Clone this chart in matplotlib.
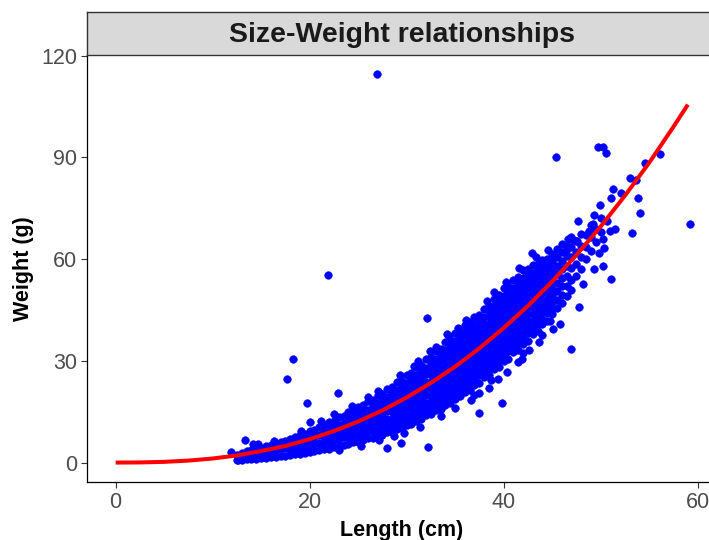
import numpy as np
import matplotlib
matplotlib.use("Agg")
import matplotlib.pyplot as plt

plt.rcParams['font.family'] = ['Liberation Sans', 'DejaVu Sans']

# dense part of the sample: one column of weights (g) per length step (cm)
band_length_cm = [12.5, 13.0, 13.5, 14.0, 14.5, 15.0, 15.5, 16.0, 16.5, 17.0,
                  17.5, 18.0, 18.5, 19.0, 19.5, 20.0, 20.5, 21.0, 21.5, 22.0,
                  22.5, 23.0, 23.5, 24.0, 24.5, 25.0, 25.5, 26.0, 26.5, 27.0,
                  27.5, 28.0, 28.5, 29.0, 29.5, 30.0, 30.5, 31.0, 31.5, 32.0,
                  32.5, 33.0, 33.5, 34.0, 34.5, 35.0, 35.5, 36.0, 36.5, 37.0,
                  37.5, 38.0, 38.5, 39.0, 39.5, 40.0, 40.5, 41.0, 41.5, 42.0,
                  42.5, 43.0, 43.5, 44.0, 44.5, 45.0, 45.5, 46.0, 46.5, 47.0,
                  47.5, 48.0, 48.5, 49.0, 49.5, 50.0]
band_weight_g = [
    [0.8, 2.2],
    [0.9, 2.9],
    [1.0, 2.2, 3.3],
    [1.1, 2.4, 3.6],
    [1.2, 2.6, 4.1],
    [1.3, 2.9, 4.4],
    [1.4, 3.1, 4.9],
    [1.5, 3.4, 5.2],
    [1.6, 3.6, 5.5],
    [1.8, 3.9, 6.1],
    [2.0, 4.2, 6.4],
    [2.2, 3.8, 5.4, 7.1],
    [2.4, 4.1, 5.8, 7.4],
    [2.6, 4.4, 6.2, 8.2],
    [2.8, 4.7, 6.6, 8.5],
    [3.0, 5.1, 7.1, 9.4],
    [3.3, 5.4, 7.6, 9.7],
    [3.6, 5.8, 8.1, 10.6],
    [3.9, 5.7, 7.5, 9.3, 11.0],
    [4.1, 6.2, 8.0, 9.9, 11.9],
    [4.6, 6.6, 8.5, 10.5, 12.3],
    [5.0, 7.0, 9.1, 11.1, 13.4],
    [5.1, 7.4, 9.6, 11.7, 13.8],
    [5.6, 7.4, 9.2, 11.0, 12.8, 14.8],
    [6.1, 7.8, 9.7, 11.6, 13.5, 15.3],
    [6.0, 8.2, 10.2, 12.2, 14.2, 16.5],
    [6.6, 8.7, 10.8, 12.8, 14.9, 16.9],
    [7.2, 9.2, 11.3, 13.5, 15.6, 18.1],
    [7.3, 9.3, 11.1, 13.0, 14.9, 16.7, 18.5],
    [7.9, 9.8, 11.7, 13.7, 15.6, 17.6, 19.8],
    [8.1, 10.2, 12.3, 14.3, 16.3, 18.4, 20.3],
    [8.9, 10.8, 12.9, 15.1, 17.2, 19.3, 21.7],
    [9.1, 11.1, 13.0, 14.9, 16.7, 18.6, 20.5, 22.3],
    [10.0, 11.7, 13.7, 15.6, 17.6, 19.5, 21.5, 23.8],
    [10.3, 12.4, 14.4, 16.4, 18.4, 20.4, 22.4, 24.2],
    [11.2, 13.1, 15.1, 17.2, 19.3, 21.4, 23.4, 25.8],
    [11.5, 13.5, 15.4, 17.2, 19.1, 21.0, 22.9, 24.7, 26.5],
    [12.4, 14.1, 16.1, 18.0, 20.0, 21.9, 23.8, 25.8, 28.1],
    [12.8, 14.9, 16.9, 18.9, 20.9, 22.9, 24.9, 26.9, 28.7],
    [13.9, 15.7, 17.7, 19.8, 21.9, 23.9, 26.0, 28.0, 30.5],
    [14.2, 16.3, 18.2, 20.0, 21.9, 23.8, 25.7, 27.5, 29.4, 31.1],
    [15.4, 17.1, 19.0, 21.0, 22.9, 24.8, 26.7, 28.6, 30.6, 32.9],
    [15.9, 18.0, 20.0, 21.9, 23.9, 25.9, 27.9, 29.8, 31.8, 33.6],
    [17.1, 18.9, 20.9, 23.0, 25.0, 27.0, 29.0, 31.1, 33.1, 35.5],
    [17.6, 19.7, 21.5, 23.4, 25.2, 27.1, 29.0, 30.8, 32.7, 34.5, 36.2],
    [18.9, 20.6, 22.5, 24.4, 26.3, 28.2, 30.1, 32.0, 33.9, 35.8, 38.1],
    [19.5, 21.6, 23.6, 25.5, 27.4, 29.4, 31.3, 33.2, 35.1, 37.1, 38.8],
    [20.9, 22.7, 24.6, 26.6, 28.6, 30.6, 32.5, 34.5, 36.5, 38.4, 40.7],
    [21.5, 23.7, 25.7, 27.7, 29.7, 31.8, 33.8, 35.8, 37.8, 39.8, 41.5],
    [22.9, 24.7, 26.7, 28.6, 30.6, 32.6, 34.6, 36.6, 38.5, 40.5, 42.9],
    [23.6, 25.8, 27.8, 29.8, 31.8, 33.8, 35.7, 37.7, 39.7, 41.7, 43.5],
    [25.1, 26.9, 28.9, 30.9, 32.9, 35.0, 37.0, 39.0, 41.0, 43.0, 45.4],
    [25.8, 27.9, 29.7, 31.6, 33.5, 35.3, 37.2, 39.0, 40.9, 42.8, 44.6, 46.3],
    [27.5, 29.1, 31.0, 32.9, 34.8, 36.7, 38.5, 40.4, 42.3, 44.2, 46.1, 48.4],
    [28.2, 30.3, 32.2, 34.2, 36.1, 38.0, 39.9, 41.8, 43.7, 45.7, 47.6, 49.3],
    [29.9, 31.5, 33.5, 35.4, 37.4, 39.3, 41.3, 43.2, 45.2, 47.1, 49.1, 51.4],
    [30.7, 32.8, 34.8, 36.7, 38.6, 40.6, 42.5, 44.4, 46.4, 48.3, 50.3, 52.0],
    [32.5, 34.1, 36.1, 38.0, 39.9, 41.9, 43.8, 45.7, 47.7, 49.6, 51.6, 53.9],
    [33.3, 35.5, 37.4, 39.4, 41.3, 43.3, 45.2, 47.2, 49.1, 51.1, 53.0, 54.8],
    [35.1, 36.8, 38.7, 40.7, 42.7, 44.7, 46.6, 48.6, 50.6, 52.6, 54.5, 56.9],
    [36.0, 38.1, 40.0, 41.9, 43.8, 45.8, 47.7, 49.6, 51.5, 53.4, 55.3, 57.0],
    [37.9, 39.6, 41.7, 43.7, 45.8, 47.8, 49.8, 51.9, 53.9, 56.0, 58.4],
    [38.8, 41.0, 43.0, 44.9, 46.9, 48.9, 50.9, 52.9, 54.8, 56.8, 58.6],
    [40.8, 42.4, 44.3, 46.2, 48.1, 50.0, 51.9, 53.8, 55.7, 57.6, 59.9],
    [41.8, 44.0, 46.0, 48.1, 50.1, 52.1, 54.1, 56.2, 58.2, 60.0],
    [43.8, 45.4, 47.4, 49.3, 51.3, 53.2, 55.2, 57.1, 59.1, 61.4],
    [45.5, 48.0, 50.5, 53.0, 55.5, 58.0, 60.5, 63.0],
    [47.0, 49.5, 52.0, 54.5, 57.0, 59.5, 62.0, 64.5],
    [49.0, 52.0, 55.0, 58.0, 61.0, 64.0],
    [51.0, 54.0, 57.5, 60.5, 63.5, 66.5],
    [55.0, 58.5, 62.0, 65.5],
    [57.0, 60.5, 64.0, 67.5],
    [60.0, 63.5, 67.0],
    [62.5, 66.5, 70.0],
    [65.0, 69.0],
    [68.0, 72.0],
]

# scattered fish away from the main cloud, and the ragged edges of the cloud
stray_length_cm = [11.9, 12.6, 13.3, 14.2, 14.7, 17.7, 18.3, 19.7, 20.0, 21.9,
                   22.5, 22.9, 26.9, 26.7, 28.7, 28.0, 29.4, 32.2, 32.9, 34.6,
                   32.1, 34.2, 32.4, 37.5, 39.8, 38.7, 37.5, 44.8, 45.8, 46.9,
                   41.4, 42.0, 45.4, 49.7, 50.2, 50.6, 59.2, 54.1, 53.9, 53.2,
                   51.1, 47.8, 56.1, 54.6, 53.0, 53.6, 51.3, 52.1, 51.1, 49.9,
                   49.3, 49.2, 50.7, 51.0, 51.5, 48.8, 47.2, 47.6, 50.2, 50.3,
                   49.8, 46.4, 45.2, 47.7, 50.2, 49.3, 48.2, 46.6,
                   24.4, 27.1, 29.3, 31.2, 33.0, 35.3, 36.1, 38.3, 40.2, 41.6,
                   43.3, 44.6, 23.0, 25.3, 27.2, 29.7, 31.4, 33.5, 35.0, 36.6,
                   37.0, 38.5, 39.4, 40.4, 41.5, 41.9, 42.6, 43.7, 44.0, 45.1,
                   16.3, 19.1, 21.2, 26.0, 30.8, 34.4, 39.0, 42.9]
stray_weight_g = [3.1, 0.9, 6.6, 5.6, 5.6, 24.6, 30.6, 17.7, 12.1, 55.2,
                  14.4, 20.4, 114.5, 8.3, 7.7, 4.4, 5.9, 4.7, 18.3, 19.5,
                  42.7, 37.8, 33.0, 14.5, 17.7, 24.5, 20.6, 41.9, 41.0, 33.6,
                  35.1, 32.2, 90.0, 93.2, 93.2, 91.4, 70.5, 73.5, 78.0, 67.8,
                  54.3, 46.0, 90.9, 88.5, 84.0, 83.5, 80.8, 79.6, 77.9, 76.1,
                  72.9, 70.5, 71.4, 68.4, 69.0, 68.4, 65.8, 65.5, 66.0, 63.4,
                  61.7, 62.5, 60.8, 71.4, 58.1, 57.2, 52.8, 66.0,
                  16.6, 21.1, 25.7, 29.9, 34.1, 39.6, 42.1, 47.6, 53.4, 57.3,
                  60.6, 62.6, 3.8, 5.0, 6.6, 8.6, 10.6, 13.6, 16.0, 18.6,
                  20.0, 22.0, 24.8, 26.8, 29.6, 30.5, 33.1, 35.6, 37.6, 39.5,
                  6.4, 9.3, 12.2, 19.4, 28.4, 37.4, 50.3, 61.9]

# fitted length-weight curve
fit_length_cm = [0, 2.5, 5, 7.5, 10, 12.5, 15, 17.5, 20, 22.5, 25, 27.5, 30,
                 32.5, 35, 37.5, 40, 42.5, 45, 47.5, 50, 52.5, 55, 57.5, 59]
fit_weight_g = [0, 0.04, 0.21, 0.58, 1.2, 2.1, 3.4, 4.9, 6.9, 9.3, 12.1, 15.4,
                19.2, 23.5, 28.3, 33.7, 39.7, 46.2, 53.4, 61.2, 69.6, 78.7,
                88.4, 99.0, 105.6]

band_x = np.repeat(band_length_cm, [len(w) for w in band_weight_g])
band_y = np.concatenate([np.array(w) for w in band_weight_g])

W, H = 709, 540
fig = plt.figure(figsize=(W / 100, H / 100), dpi=100)

ax = fig.add_axes([87 / W, 58 / H, 629.5 / W, 427 / H])
ax.scatter(band_x, band_y, s=30, c='#0000FF', edgecolors='#0000FF',
           linewidths=0.4, zorder=2)
ax.scatter(stray_length_cm, stray_weight_g, s=30, c='#0000FF',
           edgecolors='#0000FF', linewidths=0.4, zorder=2)
ax.plot(fit_length_cm, fit_weight_g, color='#FF0000', lw=2.9, zorder=3,
        solid_capstyle='butt')

ax.set_xlim(-2.95, 61.95)
ax.set_ylim(-5.73, 120.23)
ax.set_xticks([0, 20, 40, 60])
ax.set_yticks([0, 30, 60, 90, 120])
ax.tick_params(labelsize=15.5, length=4, width=0.8, color='#333333',
               labelcolor='#4D4D4D', pad=3)
for side in ('top', 'right'):
    ax.spines[side].set_visible(False)
for side in ('left', 'bottom'):
    ax.spines[side].set_linewidth(0.9)
    ax.spines[side].set_color('black')

ax.set_xlabel('Length (cm)', fontsize=15.5, fontweight='bold', labelpad=5)
ax.set_ylabel('Weight (g)', fontsize=15.5, fontweight='bold', labelpad=5)

# facet strip above the panel
strip = fig.add_axes([87 / W, 485 / H, 629.5 / W, 43 / H])
strip.set_facecolor('#D9D9D9')
strip.set_xticks([])
strip.set_yticks([])
for s in strip.spines.values():
    s.set_color('#333333')
    s.set_linewidth(1.0)
strip.text(0.5, 0.47, 'Size-Weight relationships', transform=strip.transAxes,
           ha='center', va='center', fontsize=20.5, fontweight='bold',
           color='#1A1A1A')

fig.savefig('out.png', dpi=100)
